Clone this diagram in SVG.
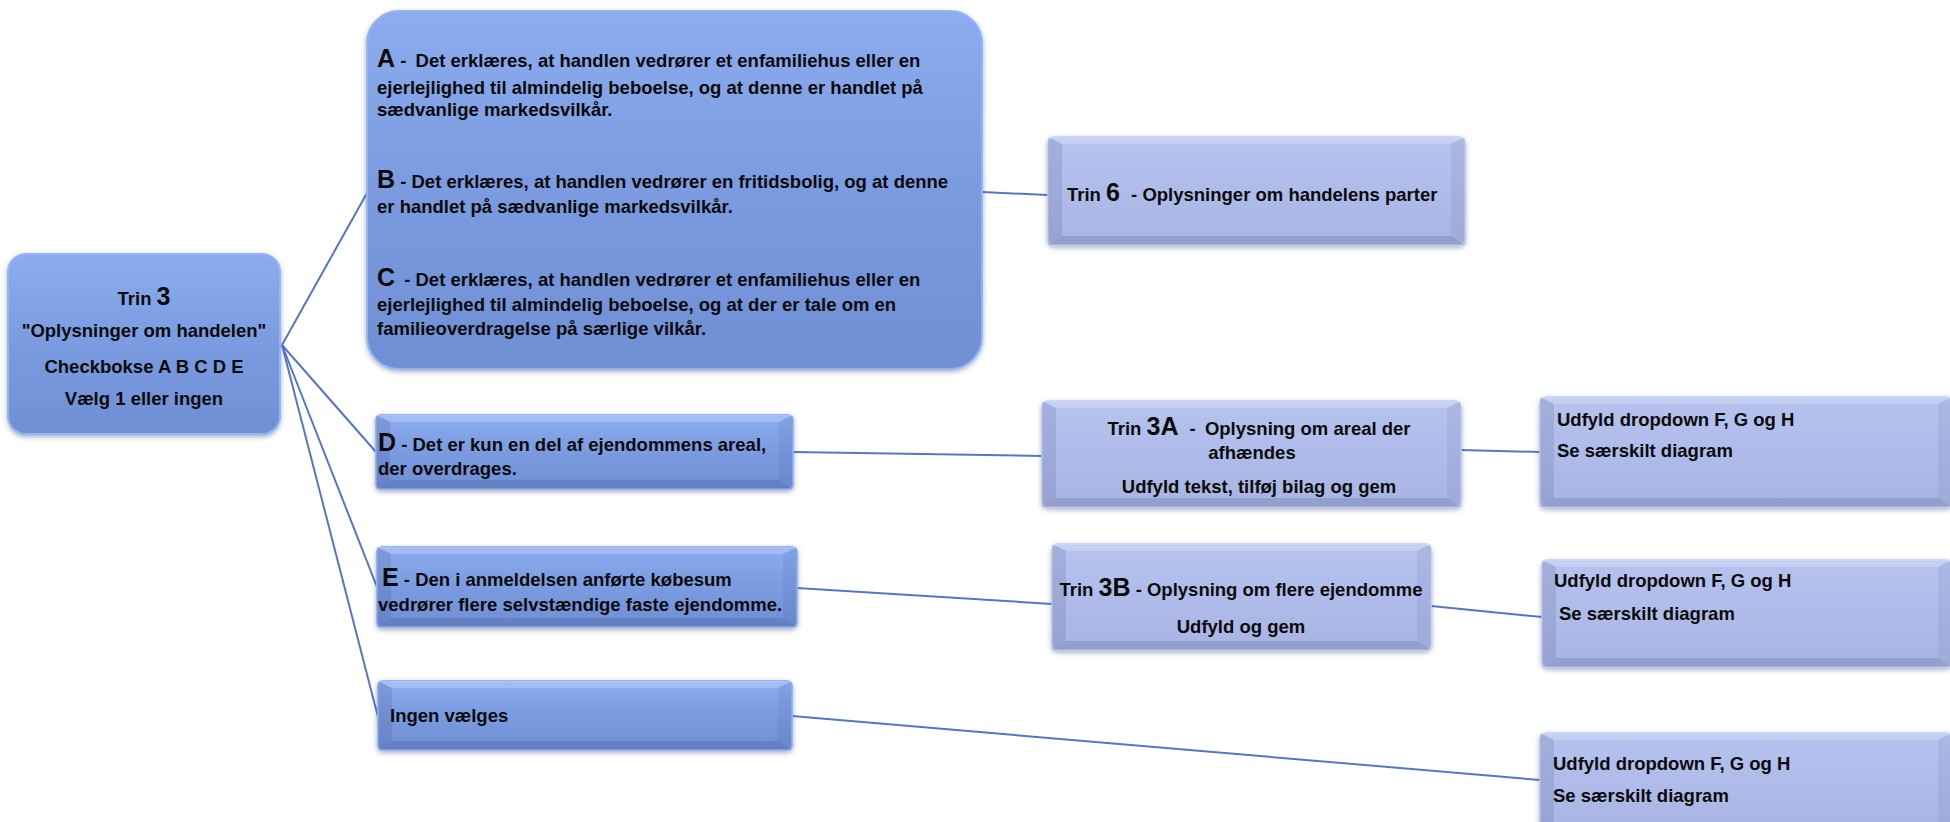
<svg xmlns="http://www.w3.org/2000/svg" width="1950" height="822" viewBox="0 0 1950 822">
<defs>
<linearGradient id="gBlue" x1="0" y1="0" x2="0" y2="1">
<stop offset="0" stop-color="#8cacef"/><stop offset="0.5" stop-color="#7b9be0"/><stop offset="1" stop-color="#6f8fd4"/>
</linearGradient>
<linearGradient id="gLav" x1="0" y1="0" x2="0" y2="1">
<stop offset="0" stop-color="#b6c3ef"/><stop offset="1" stop-color="#a8b5e3"/>
</linearGradient>
<filter id="sh" x="-10%" y="-10%" width="120%" height="130%">
<feDropShadow dx="0" dy="2" stdDeviation="2.5" flood-color="#3a4f80" flood-opacity="0.45"/>
</filter>
<style>
.blue{fill:url(#gBlue);stroke:#94b4f4;stroke-width:2;filter:url(#sh)}
.lav{fill:url(#gLav);stroke:#c3cdf2;stroke-width:1.5;filter:url(#sh)}
.bt{fill:#ffffff;fill-opacity:.22}
.bl{fill:#1a2a5a;fill-opacity:.12}
.br{fill:#1a2a5a;fill-opacity:.07}
.bb{fill:#1a2a5a;fill-opacity:.15}
.t{font-family:"Liberation Sans",Arial,sans-serif;font-weight:bold;font-size:18.5px;fill:#0b0b0b}
.big{font-size:25px}
.mid{text-anchor:middle}
.conn path{stroke:#5576c6;stroke-width:2;fill:none}
</style>
</defs>
<rect width="1950" height="822" fill="#ffffff"/>

<g class="conn" id="connectors">
<path d="M282,345 L367,193"/>
<path d="M282,345 L376,452"/>
<path d="M282,345 L377,587"/>
<path d="M282,345 L378,717"/>
<path d="M982,192 L1048,195"/>
<path d="M793,452 L1042,456"/>
<path d="M1461,450 L1540,452"/>
<path d="M797,588 L1052,604"/>
<path d="M1431,606 L1542,617"/>
<path d="M792,716 L1540,780"/>
</g>

<g id="root">
<rect class="blue" x="8" y="254" width="272" height="180" rx="18"/>
<text class="t mid" x="144" y="305">Trin <tspan class="big">3</tspan></text>
<text class="t mid" x="144" y="337">"Oplysninger om handelen"</text>
<text class="t mid" x="144" y="373">Checkbokse A B C D E</text>
<text class="t mid" x="144" y="405">Vælg 1 eller ingen</text>
</g>

<g id="abc">
<rect class="blue" x="367" y="11" width="615" height="358" rx="32"/>
<text class="t" x="377" y="67"><tspan class="big">A</tspan> -  <tspan dx="4">Det erklæres, at handlen vedrører et enfamiliehus eller en</tspan></text>
<text class="t" x="377" y="94">ejerlejlighed til almindelig beboelse, og at denne er handlet på</text>
<text class="t" x="377" y="116">sædvanlige markedsvilkår.</text>
<text class="t" x="377" y="188"><tspan class="big">B</tspan> - Det erklæres, at handlen vedrører en fritidsbolig, og at denne</text>
<text class="t" x="377" y="213">er handlet på sædvanlige markedsvilkår.</text>
<text class="t" x="377" y="286"><tspan class="big">C</tspan> <tspan dx="4">- Det erklæres, at handlen vedrører et enfamiliehus eller en</tspan></text>
<text class="t" x="377" y="311">ejerlejlighed til almindelig beboelse, og at der er tale om en</text>
<text class="t" x="377" y="335">familieoverdragelse på særlige vilkår.</text>
</g>

<g id="trin6">
<rect class="lav" x="1048" y="137" width="417" height="108" rx="6"/>
<polygon class="bt" points="1048,137 1465,137 1451,144 1062,144"/>
<polygon class="bl" points="1048,137 1062,144 1062,236 1048,245"/>
<polygon class="br" points="1465,137 1465,245 1451,236 1451,144"/>
<polygon class="bb" points="1048,245 1062,236 1451,236 1465,245"/>
<text class="t" x="1067" y="201">Trin <tspan class="big">6</tspan> <tspan dx="6">- Oplysninger om handelens parter</tspan></text>
</g>

<g id="d">
<rect class="blue" x="376" y="415" width="417" height="74" rx="5"/>
<polygon class="bt" points="376,415 793,415 779,422 390,422"/>
<polygon class="bl" points="376,415 390,422 390,480 376,489"/>
<polygon class="br" points="793,415 793,489 779,480 779,422"/>
<polygon class="bb" points="376,489 390,480 779,480 793,489"/>
<text class="t" x="378" y="451"><tspan class="big">D</tspan> - Det er kun en del af ejendommens areal,</text>
<text class="t" x="378" y="475">der overdrages.</text>
</g>

<g id="trin3a">
<rect class="lav" x="1042" y="401" width="419" height="106" rx="6"/>
<polygon class="bt" points="1042,401 1461,401 1447,408 1056,408"/>
<polygon class="bl" points="1042,401 1056,408 1056,498 1042,507"/>
<polygon class="br" points="1461,401 1461,507 1447,498 1447,408"/>
<polygon class="bb" points="1042,507 1056,498 1447,498 1461,507"/>
<text class="t mid" x="1259" y="435">Trin <tspan class="big">3A</tspan> <tspan dx="6">-</tspan> <tspan dx="4">Oplysning om areal der</tspan></text>
<text class="t mid" x="1252" y="459">afhændes</text>
<text class="t mid" x="1259" y="493">Udfyld tekst, tilføj bilag og gem</text>
</g>

<g id="fgh1">
<rect class="lav" x="1540" y="397" width="412" height="110" rx="6"/>
<polygon class="bt" points="1540,397 1952,397 1938,404 1554,404"/>
<polygon class="bl" points="1540,397 1554,404 1554,498 1540,507"/>
<polygon class="br" points="1952,397 1952,507 1938,498 1938,404"/>
<polygon class="bb" points="1540,507 1554,498 1938,498 1952,507"/>
<text class="t" x="1557" y="426">Udfyld dropdown F, G og H</text>
<text class="t" x="1557" y="457">Se særskilt diagram</text>
</g>

<g id="e">
<rect class="blue" x="377" y="547" width="420" height="80" rx="5"/>
<polygon class="bt" points="377,547 797,547 783,554 391,554"/>
<polygon class="bl" points="377,547 391,554 391,618 377,627"/>
<polygon class="br" points="797,547 797,627 783,618 783,554"/>
<polygon class="bb" points="377,627 391,618 783,618 797,627"/>
<text class="t" x="382" y="586"><tspan class="big">E</tspan> - Den i anmeldelsen anførte købesum</text>
<text class="t" x="378" y="611">vedrører flere selvstændige faste ejendomme.</text>
</g>

<g id="trin3b">
<rect class="lav" x="1052" y="544" width="379" height="106" rx="6"/>
<polygon class="bt" points="1052,544 1431,544 1417,551 1066,551"/>
<polygon class="bl" points="1052,544 1066,551 1066,641 1052,650"/>
<polygon class="br" points="1431,544 1431,650 1417,641 1417,551"/>
<polygon class="bb" points="1052,650 1066,641 1417,641 1431,650"/>
<text class="t mid" x="1241" y="596">Trin <tspan class="big">3B</tspan> - Oplysning om flere ejendomme</text>
<text class="t mid" x="1241" y="633">Udfyld og gem</text>
</g>

<g id="fgh2">
<rect class="lav" x="1542" y="560" width="410" height="107" rx="6"/>
<polygon class="bt" points="1542,560 1952,560 1938,567 1556,567"/>
<polygon class="bl" points="1542,560 1556,567 1556,658 1542,667"/>
<polygon class="br" points="1952,560 1952,667 1938,658 1938,567"/>
<polygon class="bb" points="1542,667 1556,658 1938,658 1952,667"/>
<text class="t" x="1554" y="587">Udfyld dropdown F, G og H</text>
<text class="t" x="1559" y="620">Se særskilt diagram</text>
</g>

<g id="ingen">
<rect class="blue" x="378" y="681" width="414" height="69" rx="5"/>
<polygon class="bt" points="378,681 792,681 778,688 392,688"/>
<polygon class="bl" points="378,681 392,688 392,741 378,750"/>
<polygon class="br" points="792,681 792,750 778,741 778,688"/>
<polygon class="bb" points="378,750 392,741 778,741 792,750"/>
<text class="t" x="390" y="722">Ingen vælges</text>
</g>

<g id="fgh3">
<rect class="lav" x="1540" y="733" width="412" height="100" rx="6"/>
<polygon class="bt" points="1540,733 1952,733 1938,740 1554,740"/>
<polygon class="bl" points="1540,733 1554,740 1554,824 1540,833"/>
<polygon class="br" points="1952,733 1952,833 1938,824 1938,740"/>
<polygon class="bb" points="1540,833 1554,824 1938,824 1952,833"/>
<text class="t" x="1553" y="770">Udfyld dropdown F, G og H</text>
<text class="t" x="1553" y="802">Se særskilt diagram</text>
</g>
</svg>
